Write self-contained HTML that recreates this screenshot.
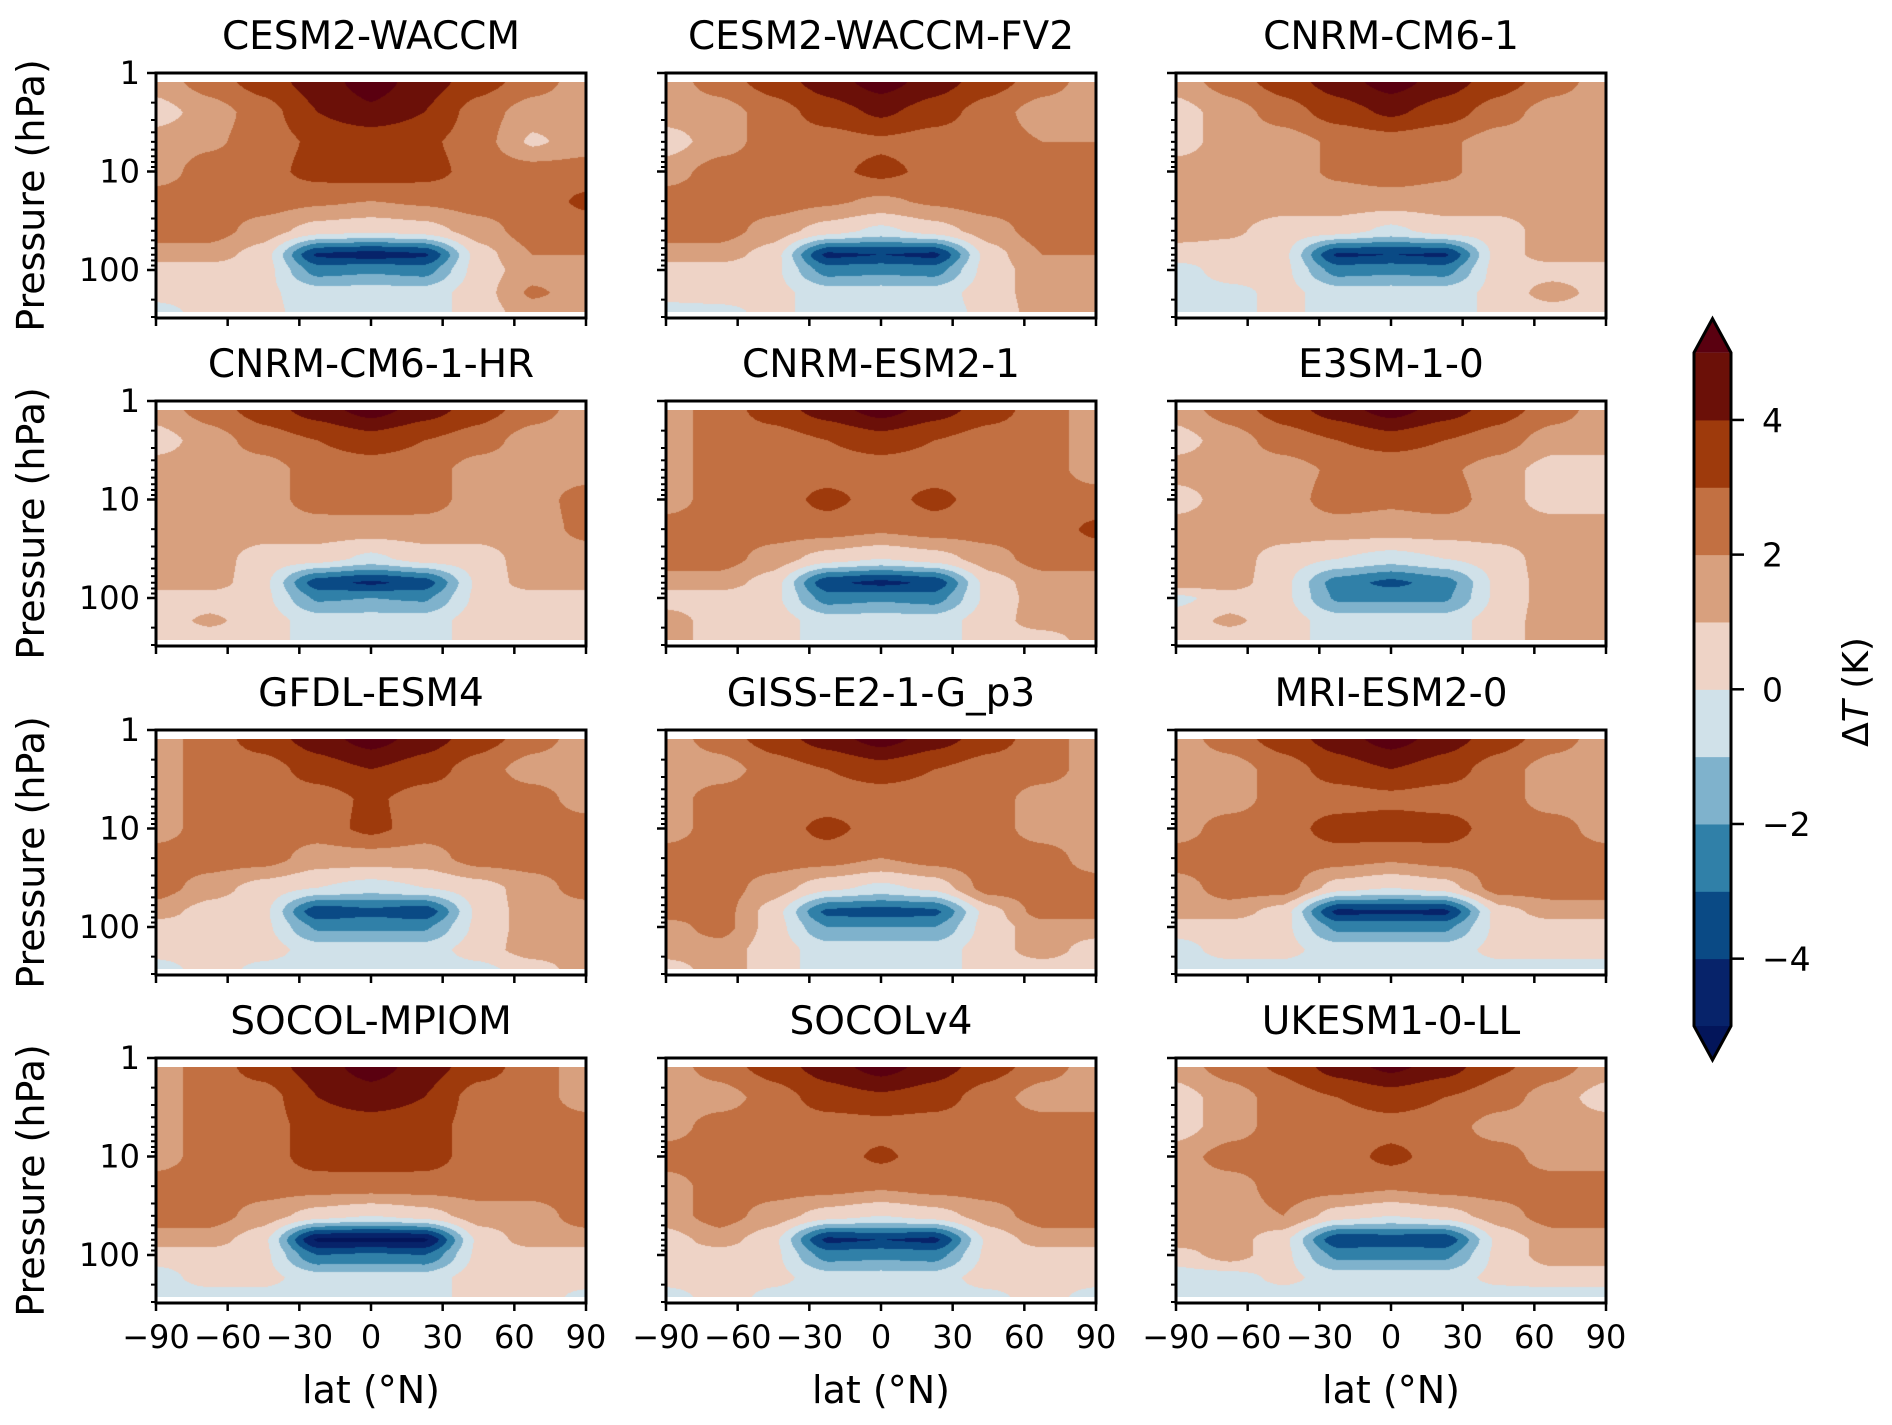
<!DOCTYPE html>
<html><head><meta charset="utf-8">
<style>
html,body{margin:0;padding:0;background:#fff;}
#wrap{position:relative;width:1892px;height:1425px;overflow:hidden;background:#fff;}
canvas{position:absolute;}
svg{position:absolute;left:0;top:0;}
text{font-family:"DejaVu Sans","Liberation Sans",sans-serif;fill:#000;}
</style></head>
<body>
<div id="wrap">
<svg id="svg" width="1892" height="1425"></svg>
</div>
<script>
// ---- data ----
const models = ["CESM2-WACCM","CESM2-WACCM-FV2","CNRM-CM6-1","CNRM-CM6-1-HR","CNRM-ESM2-1","E3SM-1-0","GFDL-ESM4","GISS-E2-1-G_p3","MRI-ESM2-0","SOCOL-MPIOM","SOCOLv4","UKESM1-0-LL"];
const lats = [-90,-67.5,-45,-22.5,0,22.5,45,67.5,90];
const pressures = [1.22,2.5,5,10,20,40,70,100,170,265];
const levels = [-5,-4,-3,-2,-1,0,1,2,3,4,5];
const levelColors = ["#07236a","#0a4a85","#3080a8","#7fb2cc","#d0e1e9","#eed3c6","#d8a07e","#c27042","#9e3a0c","#6b1008"];
const underColor = "#03155a";
const overColor = "#5a0010";
const xTicks = [-90,-60,-30,0,30,60,90];
const xTickLabels = ["\u221290","\u221260","\u221230","0","30","60","90"];
const yTicks = [1,10,100];
const yTickLabels = ["1","10","100"];
const cbTicks = [4,2,0,-2,-4];
const cbTickLabels = ["4","2","0","\u22122","\u22124"];

const gCESM2WACCM = [
[1.5,2.5,3.5,4.5,5.5,4.5,3.5,2.5,1.5],
[0.5,1.5,2.5,4,4.8,4,2.5,1.5,1.5],
[1.5,1.8,2.5,3.2,3.2,3.2,2.5,0.8,1.5],
[1.5,2.5,2.6,3.4,3.6,3.4,2.6,2.5,2.5],
[2.5,2.5,2.5,2.2,2,2.2,2.5,2.5,3.2],
[2.5,2.5,1.5,0.5,0.2,0.5,1.5,2.5,2.5],
[1.5,1.5,0.5,-4.2,-4.5,-4.2,0.5,2,2],
[0.5,0.5,0.5,-2.5,-2.2,-2.5,0.5,1.5,1.5],
[0.5,0.5,0.2,-0.5,-0.5,-0.5,0.5,2.2,1.5],
[-0.5,0.5,0.3,-0.5,-0.5,-0.5,0.5,1.5,1.5]];
const gCESM2FV2 = [
[1.5,2.5,3.5,4.5,5.5,4.5,3.5,2.5,1.5],
[1.5,1.5,2.5,3.5,4.2,3.5,2.5,1.5,1.5],
[0.5,1.5,2.5,2.5,2.8,2.5,2.5,2,2],
[1.5,2.5,2.5,2.7,3.3,2.7,2.5,2.5,2.5],
[2.5,2.5,2.5,2.2,1.8,2.2,2.5,2.5,2.5],
[2.5,2.5,1.5,0.5,-0.3,0.5,1.5,2.5,2.5],
[1.5,1.5,0.5,-4.3,-4,-4.3,0.5,2,2],
[0.5,0.5,0.3,-2.5,-2.3,-2.5,0.5,1.5,1.5],
[0.5,0.5,0.3,-0.5,-0.5,-0.5,0.5,1.5,1.5],
[-0.5,-0.3,0.3,-0.5,-0.5,-0.5,0.3,1.5,1.5]];
const gCNRMCM6 = [
[1.5,2.5,3.5,4.5,5.5,4.5,3.5,2.5,1.5],
[0.5,1.5,2.5,3.5,4.2,3.5,2.5,1.5,1.5],
[0.5,1.5,1.5,2.2,2.5,2.2,1.5,1.5,1.5],
[1.5,1.5,1.5,2.2,2.6,2.2,1.5,1.5,1.5],
[1.5,1.5,1.5,1.5,1.5,1.5,1.5,1.5,1.5],
[1.5,1.2,0.5,0.5,-0.3,0.5,0.5,1.5,1.5],
[0.5,0.5,0.3,-4.2,-4,-4.2,0.5,1.5,1.5],
[-0.5,0.5,0.3,-2.5,-2.3,-2.5,0.5,0.5,0.5],
[-0.5,-0.3,0.3,-0.5,-0.5,-0.5,0.3,1.5,0.5],
[-0.5,-0.3,0.3,-0.5,-0.5,-0.5,0.3,0.5,0.5]];
const gCNRMHR = [
[1.5,2.5,3.5,4.5,5.5,4.5,3.5,2.5,1.5],
[0.5,1.5,2.5,3,3.5,3,2.5,1.5,1.5],
[1.5,1.5,1.5,2.5,2.5,2.5,1.5,1.5,1.5],
[1.5,1.5,1.5,2.5,2.6,2.5,1.5,1.5,2.5],
[1.5,1.5,1.5,1.5,1.5,1.5,1.5,1.5,2.3],
[1.5,1.5,0.5,0.5,-0.3,0.5,0.5,1.5,1.5],
[1.5,1.5,0.3,-3.6,-4.2,-3.6,0.3,1.5,1.5],
[0.5,0.5,0.3,-2.2,-2,-2.2,0.3,0.5,0.5],
[0.5,1.2,0.5,-0.5,-0.5,-0.5,0.5,0.5,0.5],
[0.5,0.5,0.5,-0.5,-0.5,-0.5,0.5,0.5,0.5]];
const gCNRMESM = [
[1.5,2.5,3.5,4.5,5.5,4.5,3.5,2.5,1.5],
[1.5,2.5,2.5,3,3.5,3,2.5,2.5,1.5],
[1.5,2.5,2.5,2.5,2.5,2.5,2.5,2.5,1.5],
[1.5,2.5,2.5,3.3,2.6,3.3,2.5,2.5,2.5],
[2.5,2.5,2.5,2.5,2.2,2.5,2.5,2.5,3.2],
[2.5,2.5,1.5,0.5,0,0.5,1.5,2.5,2.5],
[1.5,1.5,0.5,-3.8,-4.3,-3.8,0.5,1.5,1.5],
[0.5,0.5,0.3,-2.5,-2.2,-2.5,0.3,1.5,1.5],
[1.5,0.5,0.5,-0.5,-0.5,-0.5,0.5,1.5,1.5],
[1.5,0.5,0.5,-0.5,-0.5,-0.5,0.5,0.5,1.5]];
const gE3SM = [
[1.5,2.5,3.5,4.5,5.5,4.5,3.5,2.5,1.5],
[0.5,1.5,2.5,3,3.5,3,2.5,1.5,1.5],
[1.5,1.5,1.5,2.2,2.2,2.2,1.5,0.5,0.5],
[0.5,1.5,1.5,2.5,2.2,2.5,1.5,0.5,0.5],
[1.5,1.5,1.5,1.5,1.5,1.5,1.5,1.5,1.5],
[1.5,1.5,0.5,0,-0.5,0,0.5,1.5,1.5],
[1.5,1.5,0.3,-2.5,-3.3,-2.5,0.3,1.5,1.5],
[-0.3,0.5,0.3,-2.2,-2.2,-2.2,0.3,1.5,1.5],
[0.5,1.2,0.5,-0.5,-0.5,-0.5,0.5,1.5,1.5],
[0.5,0.5,0.5,-0.5,-0.5,-0.5,0.5,1.5,1.5]];
const gGFDL = [
[1.5,2.5,3.5,4.5,5.5,4.5,3.5,2.5,1.5],
[1.5,2.5,2.5,3.5,4,3.5,2.5,1.5,1.5],
[1.5,2.5,2.5,2.5,3.2,2.5,2.5,2.5,1.5],
[1.5,2.5,2.5,2.5,3.3,2.5,2.5,2.5,2.5],
[2.5,2.5,2.5,1.5,1.5,1.5,2.5,2.5,2.5],
[2.5,1.5,0.5,0,-0.5,0,0.5,1.5,2.5],
[1.5,0.5,0.3,-3.8,-3.3,-3.8,0.3,1.5,1.5],
[0.5,0.5,0.3,-2.2,-2.2,-2.2,0.3,1.5,1.5],
[0.5,0.5,0.5,-0.5,-0.5,-0.5,0.5,1.5,1.5],
[-0.5,0.5,-0.3,-0.5,-0.5,-0.5,-0.3,0.5,1.5]];
const gGISS = [
[1.5,2.5,3.5,4.5,5.5,4.5,3.5,2.5,1.5],
[1.5,1.5,2.5,3,3.5,3,2.5,2.5,1.5],
[1.5,2.5,2.5,2.5,2.5,2.5,2.5,1.5,1.5],
[1.5,2.5,2.5,3.3,2.6,2.5,2.5,1.5,1.5],
[2.5,2.5,2.5,2.5,2,2.5,2.5,2.5,1.5],
[2.5,2.5,1.5,0.3,-0.3,0.3,2.5,2.5,2.5],
[2.5,2.5,0.5,-3.3,-3.5,-3.3,0.5,2.5,2.5],
[1.5,2.5,0.5,-2,-2,-2,0.5,1.5,1.5],
[1.5,1.5,0.5,-0.5,-0.5,-0.5,0.5,1.5,0.5],
[0.5,1.5,0.5,-0.5,-0.5,-0.5,0.5,0.5,0.5]];
const gMRI = [
[1.5,2.5,3.5,4.5,5.5,4.5,3.5,2.5,1.5],
[1.5,1.5,2.5,3.5,4,3.5,2.5,1.5,1.5],
[1.5,1.5,2.5,2.5,2.7,2.5,2.5,1.5,1.5],
[1.5,2.5,2.5,3.5,3.6,3.5,2.5,2.5,1.5],
[2.5,2.5,2.5,2.5,2.2,2.5,2.5,2.5,2.5],
[1.5,2.5,2.5,0.5,0,0.5,2.5,2.5,2.5],
[1.5,1.5,0.5,-4.3,-4.2,-4.3,0.5,1.5,1.5],
[0.5,0.5,0.3,-2.3,-2.3,-2.3,0.3,0.5,0.5],
[-0.5,0.5,0.3,-0.5,-0.5,-0.5,0.3,0.5,0.5],
[-0.5,-0.5,-0.3,-0.5,-0.5,-0.5,-0.3,-0.5,-0.5]];
const gSOCOLMPIOM = [
[1.5,2.5,3.5,4.5,5.5,4.5,3.5,2.5,1.5],
[1.5,2.5,2.5,4,4.5,4,2.5,2.5,1.5],
[1.5,2.5,2.5,3.5,3.5,3.5,2.5,2.5,2.5],
[1.5,2.5,2.5,3.5,3.6,3.5,2.5,2.5,2.5],
[2.5,2.5,2.5,2.5,2.5,2.5,2.5,2.5,2.5],
[2.5,2.5,1.5,0.5,0,0.5,1.5,1.5,2.5],
[1.5,1.5,0.3,-5.2,-5.2,-5.2,0.3,1.5,1.5],
[0.5,0.5,0.3,-3,-2.8,-3,0.3,0.5,0.5],
[-0.5,0.5,0.3,-0.5,-0.5,-0.5,0.5,0.5,0.5],
[-0.5,-0.5,-0.3,-0.5,-0.5,-0.5,0.5,0.5,-0.3]];
const gSOCOLv4 = [
[1.5,2.5,3.5,4.5,5.5,4.5,3.5,2.5,1.5],
[1.5,1.5,2.5,3.5,3.8,3.5,2.5,1.5,1.5],
[1.5,2.5,2.5,2.5,2.6,2.5,2.5,2.5,2.5],
[2.5,2.5,2.5,2.5,3.2,2.5,2.5,2.5,2.5],
[1.5,2.5,2.5,2.5,2.2,2.5,2.5,2.5,2.5],
[1.5,2.5,1.5,0.5,0,0.5,1.5,2.5,2.5],
[0.5,1.5,0.3,-4.3,-4,-4.3,0.3,1.5,1.5],
[0.5,0.5,0.3,-2.5,-2.3,-2.5,0.3,0.5,0.5],
[0.5,0.5,0.3,-0.5,-0.5,-0.5,0.5,0.5,0.5],
[-0.5,0.5,-0.3,-0.5,-0.5,-0.5,-0.3,0.5,-0.5]];
const gUKESM = [
[1.5,2.5,3.2,4.5,5.3,4.5,3.2,2.5,1.5],
[0.5,1.5,2.5,3,3.5,3,2.5,1.5,0.5],
[0.5,1.5,2.5,2.5,2.6,2.5,1.5,1.5,1.5],
[1.5,2.5,2.5,2.5,3.3,2.5,2.5,1.5,1.5],
[1.5,1.5,2.5,2.5,2.2,2.5,2.5,2.5,2.5],
[1.5,1.5,2,0.5,0,0.5,1.5,2.5,2.5],
[1.5,1.5,0.3,-3.8,-3.6,-3.8,0.3,1.5,1.5],
[0.5,1.5,0.3,-2.3,-2.3,-2.3,0.3,1.5,1.5],
[-0.5,-0.5,0.3,-0.5,-0.5,-0.5,0.3,0.5,0.5],
[-0.5,-0.5,-0.5,-0.5,-0.5,-0.5,-0.5,-0.5,-0.5]];
const grids = [gCESM2WACCM,gCESM2FV2,gCNRMCM6,gCNRMHR,gCNRMESM,gE3SM,gGFDL,gGISS,gMRI,gSOCOLMPIOM,gSOCOLv4,gUKESM];

// ---- layout ----
const colX = [156,666,1176];
const rowY = [73,401,730,1058];
const PW = 430, PH = 245;
const decade = 98.5;
const NS = "http://www.w3.org/2000/svg";
const svg = document.getElementById('svg');
const wrap = document.getElementById('wrap');

function xScale(lat){ return (lat+90)/180*PW; }
function yScale(p){ return Math.log10(p)*decade; }
function el(tag, attrs, parent){
  const e = document.createElementNS(NS, tag);
  for (const k in attrs) e.setAttribute(k, attrs[k]);
  (parent||svg).appendChild(e);
  return e;
}
function hex(c){ return [parseInt(c.slice(1,3),16),parseInt(c.slice(3,5),16),parseInt(c.slice(5,7),16)]; }
const rgbLevels = levelColors.map(hex);
const rgbUnder = hex(underColor), rgbOver = hex(overColor);
function colorFor(v){
  if (v < levels[0]) return rgbUnder;
  if (v >= levels[levels.length-1]) return rgbOver;
  let i = Math.floor(v - levels[0]);
  i = Math.max(0, Math.min(rgbLevels.length-1, i));
  return rgbLevels[i];
}
const logP = pressures.map(p=>Math.log10(p));
function sample(grid, lat, lp){
  let fx = (lat - lats[0])/(lats[1]-lats[0]);
  fx = Math.max(0, Math.min(lats.length-1.0001, fx));
  const i = Math.floor(fx), tx = fx - i;
  let j = 0;
  while (j < logP.length-2 && lp > logP[j+1]) j++;
  let ty = (lp - logP[j])/(logP[j+1]-logP[j]);
  ty = Math.max(0, Math.min(1, ty));
  const sx = tx*tx*(3-2*tx)*0.5 + tx*0.5, sy = ty*ty*(3-2*ty)*0.5 + ty*0.5;
  const a = grid[j][i], b = grid[j][i+1], c = grid[j+1][i], d = grid[j+1][i+1];
  return (a*(1-sx)+b*sx)*(1-sy) + (c*(1-sx)+d*sx)*sy;
}

models.forEach((name, k) => {
  const r = Math.floor(k/3), c = k%3;
  const X = colX[c], Y = rowY[r];
  const grid = grids[k];
  // filled field
  const y0 = Math.round(yScale(pressures[0])), y1 = Math.round(yScale(pressures[pressures.length-1]));
  const cv = document.createElement('canvas');
  
  
  cv.width = PW; cv.height = y1 - y0;
  cv.style.left = X + 'px'; cv.style.top = (Y + y0) + 'px';
  const ctx = cv.getContext('2d');
  const img = ctx.createImageData(cv.width, cv.height);
  for (let py = 0; py < cv.height; py++){
    const lp = (py + y0 + 0.5)/decade;
    for (let px = 0; px < cv.width; px++){
      const lat = (px+0.5)/PW*180 - 90;
      const col = colorFor(sample(grid, lat, lp));
      const o = (py*cv.width + px)*4;
      img.data[o]=col[0]; img.data[o+1]=col[1]; img.data[o+2]=col[2]; img.data[o+3]=255;
    }
  }
  ctx.putImageData(img, 0, 0);
  wrap.insertBefore(cv, svg);

  const g = el('g', {transform:`translate(${X},${Y})`});
  
  
  const t = el('text', {x:PW/2, y:-24, 'text-anchor':'middle', 'font-size':'39'}, g);
  
  
  t.textContent = name;
  const fr = el('rect', {x:0, y:0, width:PW, height:PH, fill:'none', stroke:'#000', 'stroke-width':'3'}, g);
  
  
  // y ticks
  const maxP = Math.pow(10, PH/decade);
  for (let d = 1; d <= 100; d *= 10){
    for (let m = 1; m <= 9; m++){
      const p = d*m;
      if (p > maxP) break;
      const yy = yScale(p);
      const major = (m === 1);
      const tk = el('line', {x1:0, x2: major ? -9 : -5, y1:yy, y2:yy, stroke:'#000', 'stroke-width': major ? 2.5 : 2}, g);
      
      
    }
  }
  if (c === 0){
    yTicks.forEach((p, i) => {
      const tl = el('text', {x:-16, y:yScale(p)+11, 'text-anchor':'end', 'font-size':'32'}, g);
      
      
      tl.textContent = yTickLabels[i];
    });
    const yl = el('text', {transform:`translate(${-112},${PH/2}) rotate(-90)`, 'text-anchor':'middle', 'font-size':'38'}, g);
    
    
    yl.textContent = 'Pressure (hPa)';
  }
  xTicks.forEach((v, i) => {
    const xx = xScale(v);
    const tk = el('line', {x1:xx, x2:xx, y1:PH, y2:PH+8, stroke:'#000', 'stroke-width':2.5}, g);
    
    
    if (r === 3){
      const tl = el('text', {x:xx, y:PH+45, 'text-anchor':'middle', 'font-size':'32'}, g);
      
      
      tl.textContent = xTickLabels[i];
    }
  });
  if (r === 3){
    const xl = el('text', {x:PW/2, y:PH+100, 'text-anchor':'middle', 'font-size':'38'}, g);
    
    
    xl.textContent = 'lat (\u00b0N)';
  }
});

// ---- colorbar ----
const cbX = 1694, cbW = 37;
const cbTop = 352.6, cbBot = 1026;
function cbY(v){ return cbBot - (v - levels[0])/(levels[levels.length-1]-levels[0])*(cbBot-cbTop); }
const cbG = el('g', {});


for (let i = 0; i < levelColors.length; i++){
  const ya = cbY(levels[i+1]), yb = cbY(levels[i]);
  const b = el('rect', {x:cbX, y:ya, width:cbW, height:yb-ya+0.5, fill:levelColors[i]}, cbG);
  
  
}
const ext = 34;
const up = el('polygon', {points:`${cbX},${cbTop} ${cbX+cbW/2},${cbTop-ext} ${cbX+cbW},${cbTop}`, fill:overColor}, cbG);


const dn = el('polygon', {points:`${cbX},${cbBot} ${cbX+cbW/2},${cbBot+ext} ${cbX+cbW},${cbBot}`, fill:underColor}, cbG);


const outline = el('polygon', {points:`${cbX},${cbTop} ${cbX+cbW/2},${cbTop-ext} ${cbX+cbW},${cbTop} ${cbX+cbW},${cbBot} ${cbX+cbW/2},${cbBot+ext} ${cbX},${cbBot}`, fill:'none', stroke:'#000', 'stroke-width':3}, cbG);


cbTicks.forEach((v, i) => {
  const yy = cbY(v);
  const tk = el('line', {x1:cbX+cbW, x2:cbX+cbW+13, y1:yy, y2:yy, stroke:'#000', 'stroke-width':2.5}, cbG);
  
  
  const tl = el('text', {x:1762, y:yy+12, 'font-size':'33'}, cbG);
  
  
  tl.textContent = cbTickLabels[i];
});
const cl = el('text', {transform:'translate(1868,692) rotate(-90)', 'text-anchor':'middle', 'font-size':'36'}, cbG);


cl.innerHTML = '\u0394<tspan font-style="italic">T</tspan> (K)';
</script>
</body></html>
